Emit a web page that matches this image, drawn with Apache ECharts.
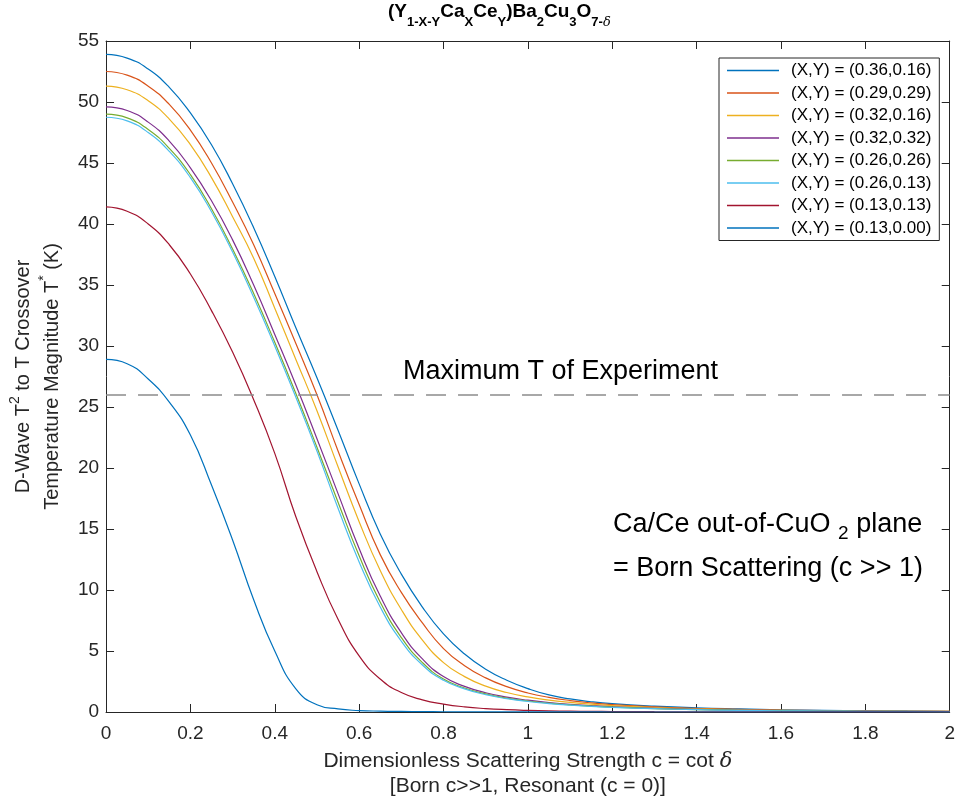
<!DOCTYPE html>
<html>
<head>
<meta charset="utf-8">
<script src="https://cdn.jsdelivr.net/npm/echarts@6/dist/echarts.min.js"></script>
<style>html,body{margin:0;padding:0;background:#fff}#chart{width:958px;height:809px}</style>
</head>
<body>
<div id="chart"></div>
<script>
// ---- data ----
const cGrid = [0,0.05,0.1,0.15,0.2,0.25,0.3,0.35,0.4,0.45,0.5,0.55,0.6,0.65,0.7,0.75,0.8,0.85,0.9,0.95,1.0,1.05,1.1,1.15,1.2,1.3,1.4,1.5,1.6,1.7,1.8,1.9,2.0];

const seriesNames = [
  '(X,Y) = (0.36,0.16)',
  '(X,Y) = (0.29,0.29)',
  '(X,Y) = (0.32,0.16)',
  '(X,Y) = (0.32,0.32)',
  '(X,Y) = (0.26,0.26)',
  '(X,Y) = (0.26,0.13)',
  '(X,Y) = (0.13,0.13)',
  '(X,Y) = (0.13,0.00)'
];
const seriesColors = ['#0072BD','#D95319','#EDB120','#7E2F8E','#77AC30','#4DBEEE','#A2142F','#0072BD'];

const T_036_016 = [53.9,53.6,52.7,51.2,49.1,46.5,43.3,39.7,35.7,31.5,27.4,23.1,18.7,14.6,11.3,8.6,6.4,4.75,3.5,2.6,1.92,1.4,1.07,0.84,0.68,0.48,0.34,0.25,0.18,0.135,0.1,0.078,0.06];
const T_029_029 = [52.5,52.2,51.3,49.8,47.7,45.0,41.8,38.3,34.3,30.2,26.0,21.4,17.0,12.9,9.8,7.3,5.2,3.8,2.8,2.08,1.56,1.2,0.94,0.75,0.61,0.42,0.3,0.22,0.16,0.12,0.092,0.071,0.055];
const T_032_016 = [51.3,51.0,50.1,48.6,46.5,43.8,40.6,37.2,33.1,28.9,24.7,20.1,15.6,11.6,8.4,5.9,4.05,2.9,2.12,1.6,1.24,0.98,0.79,0.64,0.53,0.37,0.26,0.19,0.14,0.105,0.08,0.062,0.048];
const T_032_032 = [49.6,49.3,48.35,46.8,44.6,41.9,38.7,35.0,30.95,26.8,22.4,17.9,13.4,9.5,6.5,4.35,2.9,2.1,1.58,1.22,0.97,0.78,0.63,0.52,0.43,0.3,0.21,0.155,0.115,0.087,0.067,0.052,0.04];
const T_026_026 = [49.0,48.7,47.75,46.2,44.05,41.25,37.95,34.3,30.3,26.1,21.7,17.2,12.8,9.0,6.1,4.05,2.7,1.97,1.48,1.14,0.9,0.72,0.59,0.48,0.4,0.28,0.2,0.145,0.107,0.081,0.062,0.048,0.037];
const T_026_013 = [48.75,48.45,47.5,45.95,43.8,41.0,37.7,34.0,30.0,25.8,21.4,16.7,12.3,8.6,5.8,3.85,2.6,1.9,1.42,1.09,0.86,0.69,0.56,0.46,0.38,0.27,0.19,0.14,0.1,0.077,0.059,0.046,0.035];
const T_013_013 = [41.4,41.05,40.0,38.3,35.9,32.9,29.5,25.6,21.2,16.0,11.5,7.6,4.6,2.7,1.6,1.0,0.65,0.42,0.28,0.19,0.13,0.09,0.065,0.05,0.04,0.025,0.017,0.012,0.009,0.007,0.005,0.004,0.003];
const T_013_000 = [28.9,28.55,27.3,25.4,22.7,18.6,14.1,9.2,5.0,1.9,0.6,0.25,0.12,0.07,0.045,0.03,0.02,0.015,0.01,0.008,0.006,0.005,0.004,0.003,0.002,0.0015,0.001,0.001,0.0005,0.0005,0.0003,0.0002,0.0001];

const seriesValues = [T_036_016,T_029_029,T_032_016,T_032_032,T_026_026,T_026_013,T_013_013,T_013_000];

const maxExperimentT = 26;
const xMin = 0, xMax = 2, xStep = 0.2;
const yMin = 0, yMax = 55, yStep = 5;

// ---- chart ----
const FONT = 'Liberation Sans, Arial, Helvetica, sans-serif';
const AX = '#262626';
const chart = echarts.init(document.getElementById('chart'), null, {renderer: 'canvas'});

const series = seriesValues.map((vals, i) => ({
  name: seriesNames[i],
  type: 'line',
  xAxisIndex: 0,
  yAxisIndex: 0,
  data: cGrid.map((c, k) => [c, vals[k]]),
  symbol: 'none',
  showSymbol: false,
  smooth: 0.5,
  lineStyle: {color: seriesColors[i], width: 1.2},
  itemStyle: {color: seriesColors[i]},
  z: 3,
  markLine: i === 0 ? {
    silent: true,
    symbol: ['none', 'none'],
    label: {show: false},
    lineStyle: {color: '#8c8c8c', width: 1.6, type: [20, 12]},
    data: [{yAxis: maxExperimentT}]
  } : undefined
}));

const axisCommon = {
  axisLine: {show: true, onZero: false, lineStyle: {color: AX, width: 1}},
  axisTick: {show: true, inside: true, length: 8, lineStyle: {color: AX, width: 1}},
  splitLine: {show: false}
};

chart.setOption({
  animation: false,
  backgroundColor: '#fff',
  textStyle: {fontFamily: FONT},
  grid: {left: 105, right: 3, top: 41, bottom: 97, containLabel: false},
  legend: {
    data: seriesNames.map((n, i) => ({name: n, icon: 'rect', itemStyle: {color: seriesColors[i]}})),
    orient: 'vertical',
    left: 719, top: 58,
    itemWidth: 52, itemHeight: 1.5, itemGap: 5.5,
    padding: [4, 8, 4, 8],
    backgroundColor: '#fff',
    borderColor: AX, borderWidth: 1, borderRadius: 0,
    textStyle: {fontSize: 17, color: '#000', fontFamily: FONT, lineHeight: 17, padding: [0, 0, 0, 7]},
    selectedMode: false
  },
  xAxis: [
    Object.assign({
      type: 'value', position: 'bottom', min: xMin, max: xMax, interval: xStep,
      axisLabel: {fontSize: 19, color: AX, margin: 12, fontFamily: FONT},
      name: 'Dimensionless Scattering Strength c = cot {it|δ}\n[Born c>>1, Resonant (c = 0)]',
      nameLocation: 'middle', nameGap: 37,
      nameTextStyle: {fontSize: 21, color: AX, fontFamily: FONT, lineHeight: 25,
        rich: {it: {fontSize: 21, fontStyle: 'italic', color: AX, fontFamily: 'DejaVu Serif, serif', lineHeight: 25}}}
    }, axisCommon),
    Object.assign({
      type: 'value', position: 'top', min: xMin, max: xMax, interval: xStep,
      axisLabel: {show: false}
    }, axisCommon)
  ],
  yAxis: [
    Object.assign({
      type: 'value', position: 'left', min: yMin, max: yMax, interval: yStep,
      axisLabel: {fontSize: 19, color: AX, margin: 7, fontFamily: FONT},
      name: 'D-Wave T{sup|2} to T Crossover\nTemperature Magnitude T{sup|*} (K)',
      nameLocation: 'middle', nameGap: 35,
      nameTextStyle: {fontSize: 20, color: AX, fontFamily: FONT, lineHeight: 29,
        rich: {sup: {fontSize: 14, color: AX, fontFamily: FONT, padding: [0, 0, 16, 0], lineHeight: 14}}}
    }, axisCommon),
    Object.assign({
      type: 'value', position: 'right', min: yMin, max: yMax, interval: yStep,
      axisLabel: {show: false}
    }, axisCommon)
  ],
  graphic: [
    {
      type: 'text', x: 388, y: 11.4, silent: true,
      style: {
        text: '(Y{s|1-X-Y}Ca{s|X}Ce{s|Y})Ba{s|2}Cu{s|3}O{s|7-}{d|δ}',
        fontSize: 19, fontWeight: 'bold', fill: '#000', fontFamily: FONT,
        align: 'left', verticalAlign: 'middle',
        rich: {
          s: {fontSize: 13, fontWeight: 'bold', fill: '#000', fontFamily: FONT, padding: [22, 0, 0, 0]},
          d: {fontSize: 13, fontStyle: 'italic', fill: '#000', fontFamily: 'DejaVu Serif, serif', padding: [22, 0, 0, 0]}
        }
      }
    },
    {
      type: 'text', x: 403, y: 372, silent: true,
      style: {text: 'Maximum T of Experiment', fontSize: 27, fill: '#000', fontFamily: FONT, align: 'left', verticalAlign: 'middle'}
    },
    {
      type: 'text', x: 613, y: 525, silent: true,
      style: {
        text: 'Ca/Ce out-of-CuO {s|2} plane', fontSize: 27, fill: '#000', fontFamily: FONT,
        align: 'left', verticalAlign: 'middle',
        rich: {s: {fontSize: 19, fill: '#000', fontFamily: FONT, padding: [17, 0, 0, 0]}}
      }
    },
    {
      type: 'text', x: 613, y: 569, silent: true,
      style: {text: '= Born Scattering (c >> 1)', fontSize: 27, fill: '#000', fontFamily: FONT, align: 'left', verticalAlign: 'middle'}
    }
  ],
  series: series
});
</script>
</body>
</html>
